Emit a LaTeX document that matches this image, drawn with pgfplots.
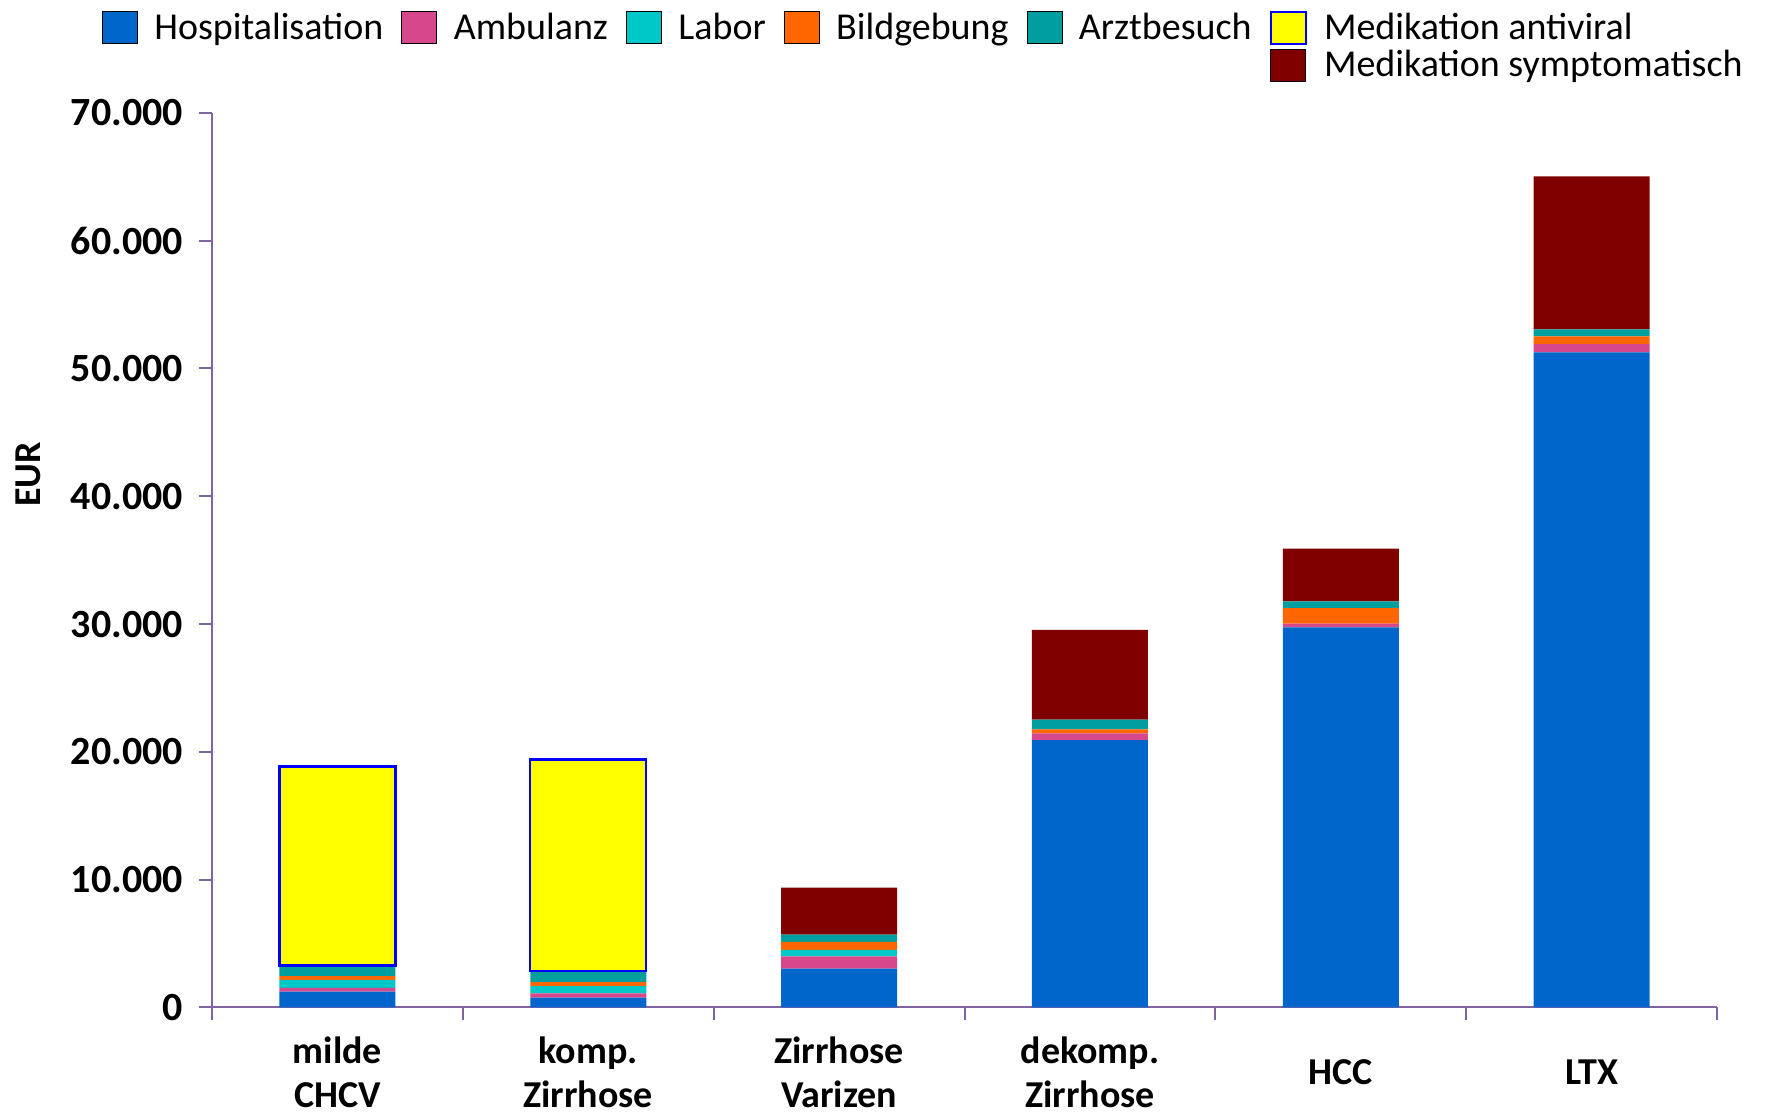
\documentclass[border=0pt]{standalone}
\usepackage{pgfplots}
\pgfplotsset{compat=1.18}
\usepackage{fontspec}
\setmainfont{Carlito}
\definecolor{hosp}{RGB}{0,102,204}
\definecolor{amb}{RGB}{214,71,139}
\definecolor{labor}{RGB}{0,200,200}
\definecolor{bild}{RGB}{255,102,0}
\definecolor{arzt}{RGB}{0,158,158}
\definecolor{antiv}{RGB}{255,255,0}
\definecolor{sympt}{RGB}{128,0,0}
\definecolor{axcol}{RGB}{128,100,162}
\pgfplotsset{
  common/.style={
    at={(106pt,52.75pt)}, anchor=south west,
    scale only axis, width=752.5pt, height=447.35pt,
    ybar stacked, bar width=58pt,
    xmin=-0.5, xmax=5.5, ymin=0, ymax=70000,
  }
}
\begin{document}
\begin{tikzpicture}
\useasboundingbox (0,0) rectangle (884.5pt,556.5pt);
\begin{axis}[
  common,
  axis lines*=left,
  axis line style={axcol, line width=1pt, -},
  xtick={-0.5,0.5,1.5,2.5,3.5,4.5,5.5},
  x tick label as interval,
  xticklabels={{milde\\CHCV},{komp.\\Zirrhose},{Zirrhose\\Varizen},{dekomp.\\Zirrhose},HCC,LTX},
  x tick label style={align=center, anchor=center, inner sep=0pt, yshift=-26pt, font=\fontsize{19}{21.8}\selectfont\bfseries},
  ytick={0,10000,...,70000},
  scaled y ticks=false,
  y tick label style={font=\fontsize{20}{24}\selectfont\bfseries, xshift=-4.5pt},
  /pgf/number format/.cd, fixed, 1000 sep={.}, assume math mode=true,
  /pgfplots/.cd,
  tick align=outside,
  major tick length=6.5pt,
  tick style={axcol, line width=1pt},
  ylabel={EUR},
  ylabel style={at={(axis description cs:-0.122,0.596)}, anchor=center, font=\fontsize{19}{22}\selectfont\bfseries},
  legend image code/.code={\draw[#1] (0pt,-8pt) rectangle (17.5pt,8pt); \path (24pt,0pt);},
  legend columns=6,
  legend cell align=left,
  legend style={draw=none, fill=none, at={(1,1)}, anchor=north east, xshift=18pt, yshift=54pt,
    font=\fontsize{19}{22}\selectfont, row sep=0pt,
    /tikz/every even column/.append style={column sep=7pt}},
]
\addplot[fill=hosp, draw=none, forget plot] coordinates {(0,1250) (1,780) (2,3050) (3,20910) (4,29730) (5,51250)};
\addplot[fill=amb, draw=none, forget plot] coordinates {(0,290) (1,320) (2,940) (3,530) (4,310) (5,650)};
\addplot[fill=labor, draw=none, forget plot] coordinates {(0,630) (1,570) (2,520) (3,0) (4,0) (5,0)};
\addplot[fill=bild, draw=none, forget plot] coordinates {(0,280) (1,310) (2,630) (3,310) (4,1200) (5,600)};
\addplot[fill=arzt, draw=none, forget plot] coordinates {(0,840) (1,860) (2,570) (3,780) (4,530) (5,550)};
\addplot[fill=antiv, draw=none, forget plot] coordinates {(0,15570) (1,16550) (2,0) (3,0) (4,0) (5,0)};
\addplot[fill=sympt, draw=none, forget plot] coordinates {(0,0) (1,0) (2,3660) (3,7010) (4,4130) (5,11970)};
\addlegendimage{fill=hosp, draw=none}\addlegendentry{Hospitalisation}
\addlegendimage{fill=amb, draw=none}\addlegendentry{Ambulanz}
\addlegendimage{fill=labor, draw=none}\addlegendentry{Labor}
\addlegendimage{fill=bild, draw=none}\addlegendentry{Bildgebung}
\addlegendimage{fill=arzt, draw=none}\addlegendentry{Arztbesuch}
\addlegendimage{fill=antiv, draw=blue, line width=1.2pt}\addlegendentry{Medikation antiviral}
\addlegendimage{empty legend}\addlegendentry{}
\addlegendimage{empty legend}\addlegendentry{}
\addlegendimage{empty legend}\addlegendentry{}
\addlegendimage{empty legend}\addlegendentry{}
\addlegendimage{empty legend}\addlegendentry{}
\addlegendimage{fill=sympt, draw=none}\addlegendentry{Medikation symptomatisch}
\end{axis}
\begin{axis}[common, hide axis]
\addplot[draw=none, fill=none] coordinates {(0,3290) (1,2840)};
\addplot[fill=antiv, draw=blue, line width=1.2pt] coordinates {(0,15570) (1,16550)};
\end{axis}
\end{tikzpicture}
\end{document}
